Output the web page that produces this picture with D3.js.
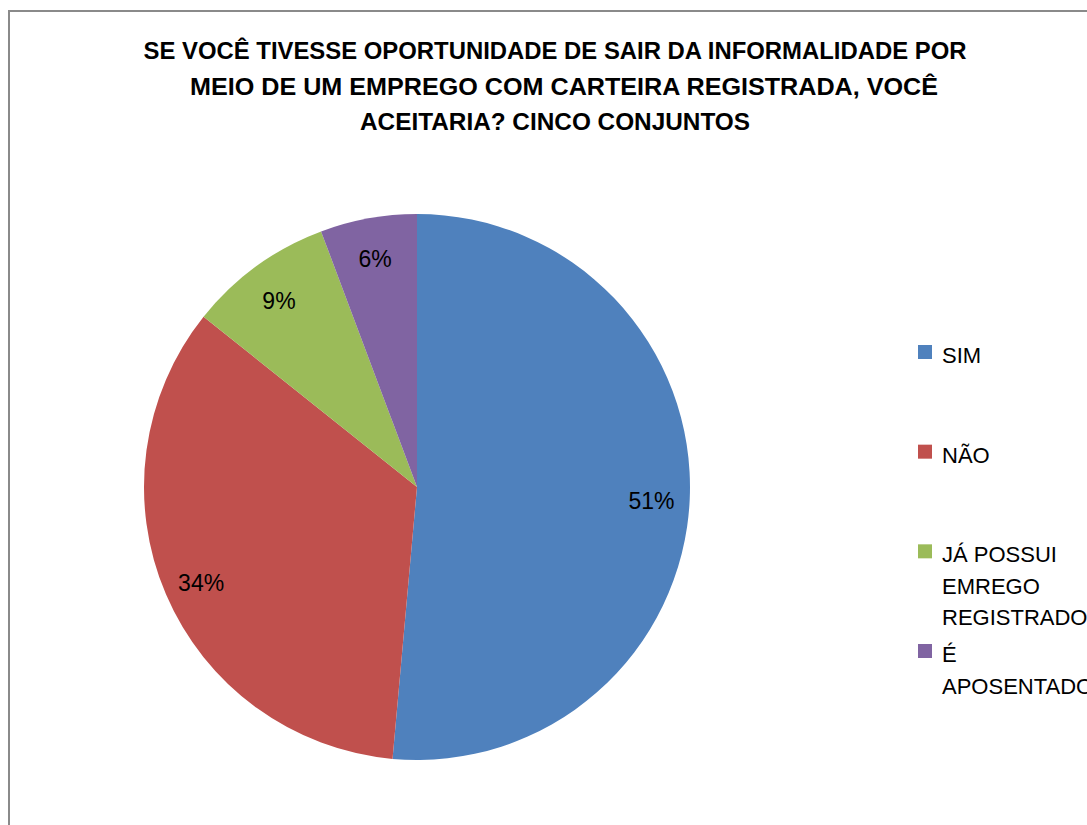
<!DOCTYPE html>
<html lang="pt">

<head>
    <title>Sair da informalidade</title>
    <meta charset="utf-8">
    <script src="https://d3js.org/d3.v7.min.js"></script>
    <style>
        body { margin: 0; background: #fff; overflow: hidden; }
        svg { display: block; }
    </style>
</head>

<body>
    <div id="container1"></div>
    <script>
        // Data
        const categories = ["SIM", "NÃO", "JÁ POSSUI EMREGO REGISTRADO", "É APOSENTADO"];
        const counts = [18, 12, 3, 2];
        const colors = ["#4F81BD", "#C0504D", "#9BBB59", "#8064A2"];
        const titleLines = [
            "SE VOCÊ TIVESSE OPORTUNIDADE DE SAIR DA INFORMALIDADE POR",
            "MEIO DE UM EMPREGO COM CARTEIRA REGISTRADA, VOCÊ",
            "ACEITARIA? CINCO CONJUNTOS"
        ];
        const titleWidths = [823, 748, 390];

        // Canvas
        const width = 1087;
        const height = 825;
        const font = "'Liberation Sans Narrow', 'Liberation Sans', Arial, sans-serif";
        const bodyFont = "'Liberation Sans', Arial, sans-serif";

        const svg = d3.select("#container1")
            .append("svg")
            .attr("width", width)
            .attr("height", height);

        // Chart frame (runs off the right and bottom edges)
        svg.append("rect")
            .attr("x", 9)
            .attr("y", 11)
            .attr("width", 2000)
            .attr("height", 2000)
            .attr("fill", "none")
            .attr("stroke", "#8a8a8a")
            .attr("stroke-width", 2);

        // Title
        svg.append("g")
            .selectAll("text")
            .data(titleLines)
            .join("text")
            .attr("x", (d, i) => i === 1 ? 564 : 555)
            .attr("y", (d, i) => 59 + i * 35.5)
            .attr("text-anchor", "middle")
            .attr("textLength", (d, i) => titleWidths[i])
            .attr("lengthAdjust", "spacingAndGlyphs")
            .style("font-family", font)
            .style("font-weight", "bold")
            .style("font-size", "23.5px")
            .style("fill", "#000")
            .text(d => d);

        // Pie
        const radius = 273;
        const total = d3.sum(counts);
        const colorScale = d3.scaleOrdinal().domain(categories).range(colors);

        const pie = d3.pie().sort(null).value(d => d.value);
        const slices = pie(categories.map((c, i) => ({ name: c, value: counts[i] })));

        const arc = d3.arc().innerRadius(0).outerRadius(radius);
        const labelArc = d3.arc().innerRadius(radius * 0.86).outerRadius(radius * 0.86);

        const wrapper_pie = svg.append("g")
            .attr("transform", "translate(417,487)");

        wrapper_pie.selectAll("path")
            .data(slices)
            .join("path")
            .attr("fill", d => colorScale(d.data.name))
            .attr("d", arc);

        const pct = d3.format(".0%");
        wrapper_pie.selectAll("text")
            .data(slices)
            .join("text")
            .attr("transform", d => `translate(${labelArc.centroid(d)})`)
            .attr("dy", "0.5em")
            .attr("text-anchor", "middle")
            .style("font-family", bodyFont)
            .style("font-size", "23px")
            .style("fill", "#000")
            .text(d => pct(d.data.value / total));

        // Legend
        const yLegend = d3.scalePoint().domain(categories).range([363, 662]);

        const legend = svg.append("g");

        categories.forEach(c => {
            const g = legend.append("g");
            g.append("rect")
                .attr("x", 918)
                .attr("y", yLegend(c) - 18)
                .attr("width", 14)
                .attr("height", 14)
                .attr("fill", colorScale(c));

            const text = g.append("text")
                .attr("x", 942)
                .attr("y", yLegend(c))
                .style("font-family", bodyFont)
                .style("font-size", "22px")
                .style("fill", "#000");

            // wrap words inside the space left of the edge
            const words = c.split(" ");
            let line = [];
            let tspan = text.append("tspan").attr("x", 942).attr("dy", 0);
            words.forEach(w => {
                line.push(w);
                tspan.text(line.join(" "));
                if (tspan.node().getComputedTextLength() > 140 && line.length > 1) {
                    line.pop();
                    tspan.text(line.join(" "));
                    line = [w];
                    tspan = text.append("tspan").attr("x", 942).attr("dy", 31.5).text(w);
                }
            });
        });
    </script>
</body>

</html>
